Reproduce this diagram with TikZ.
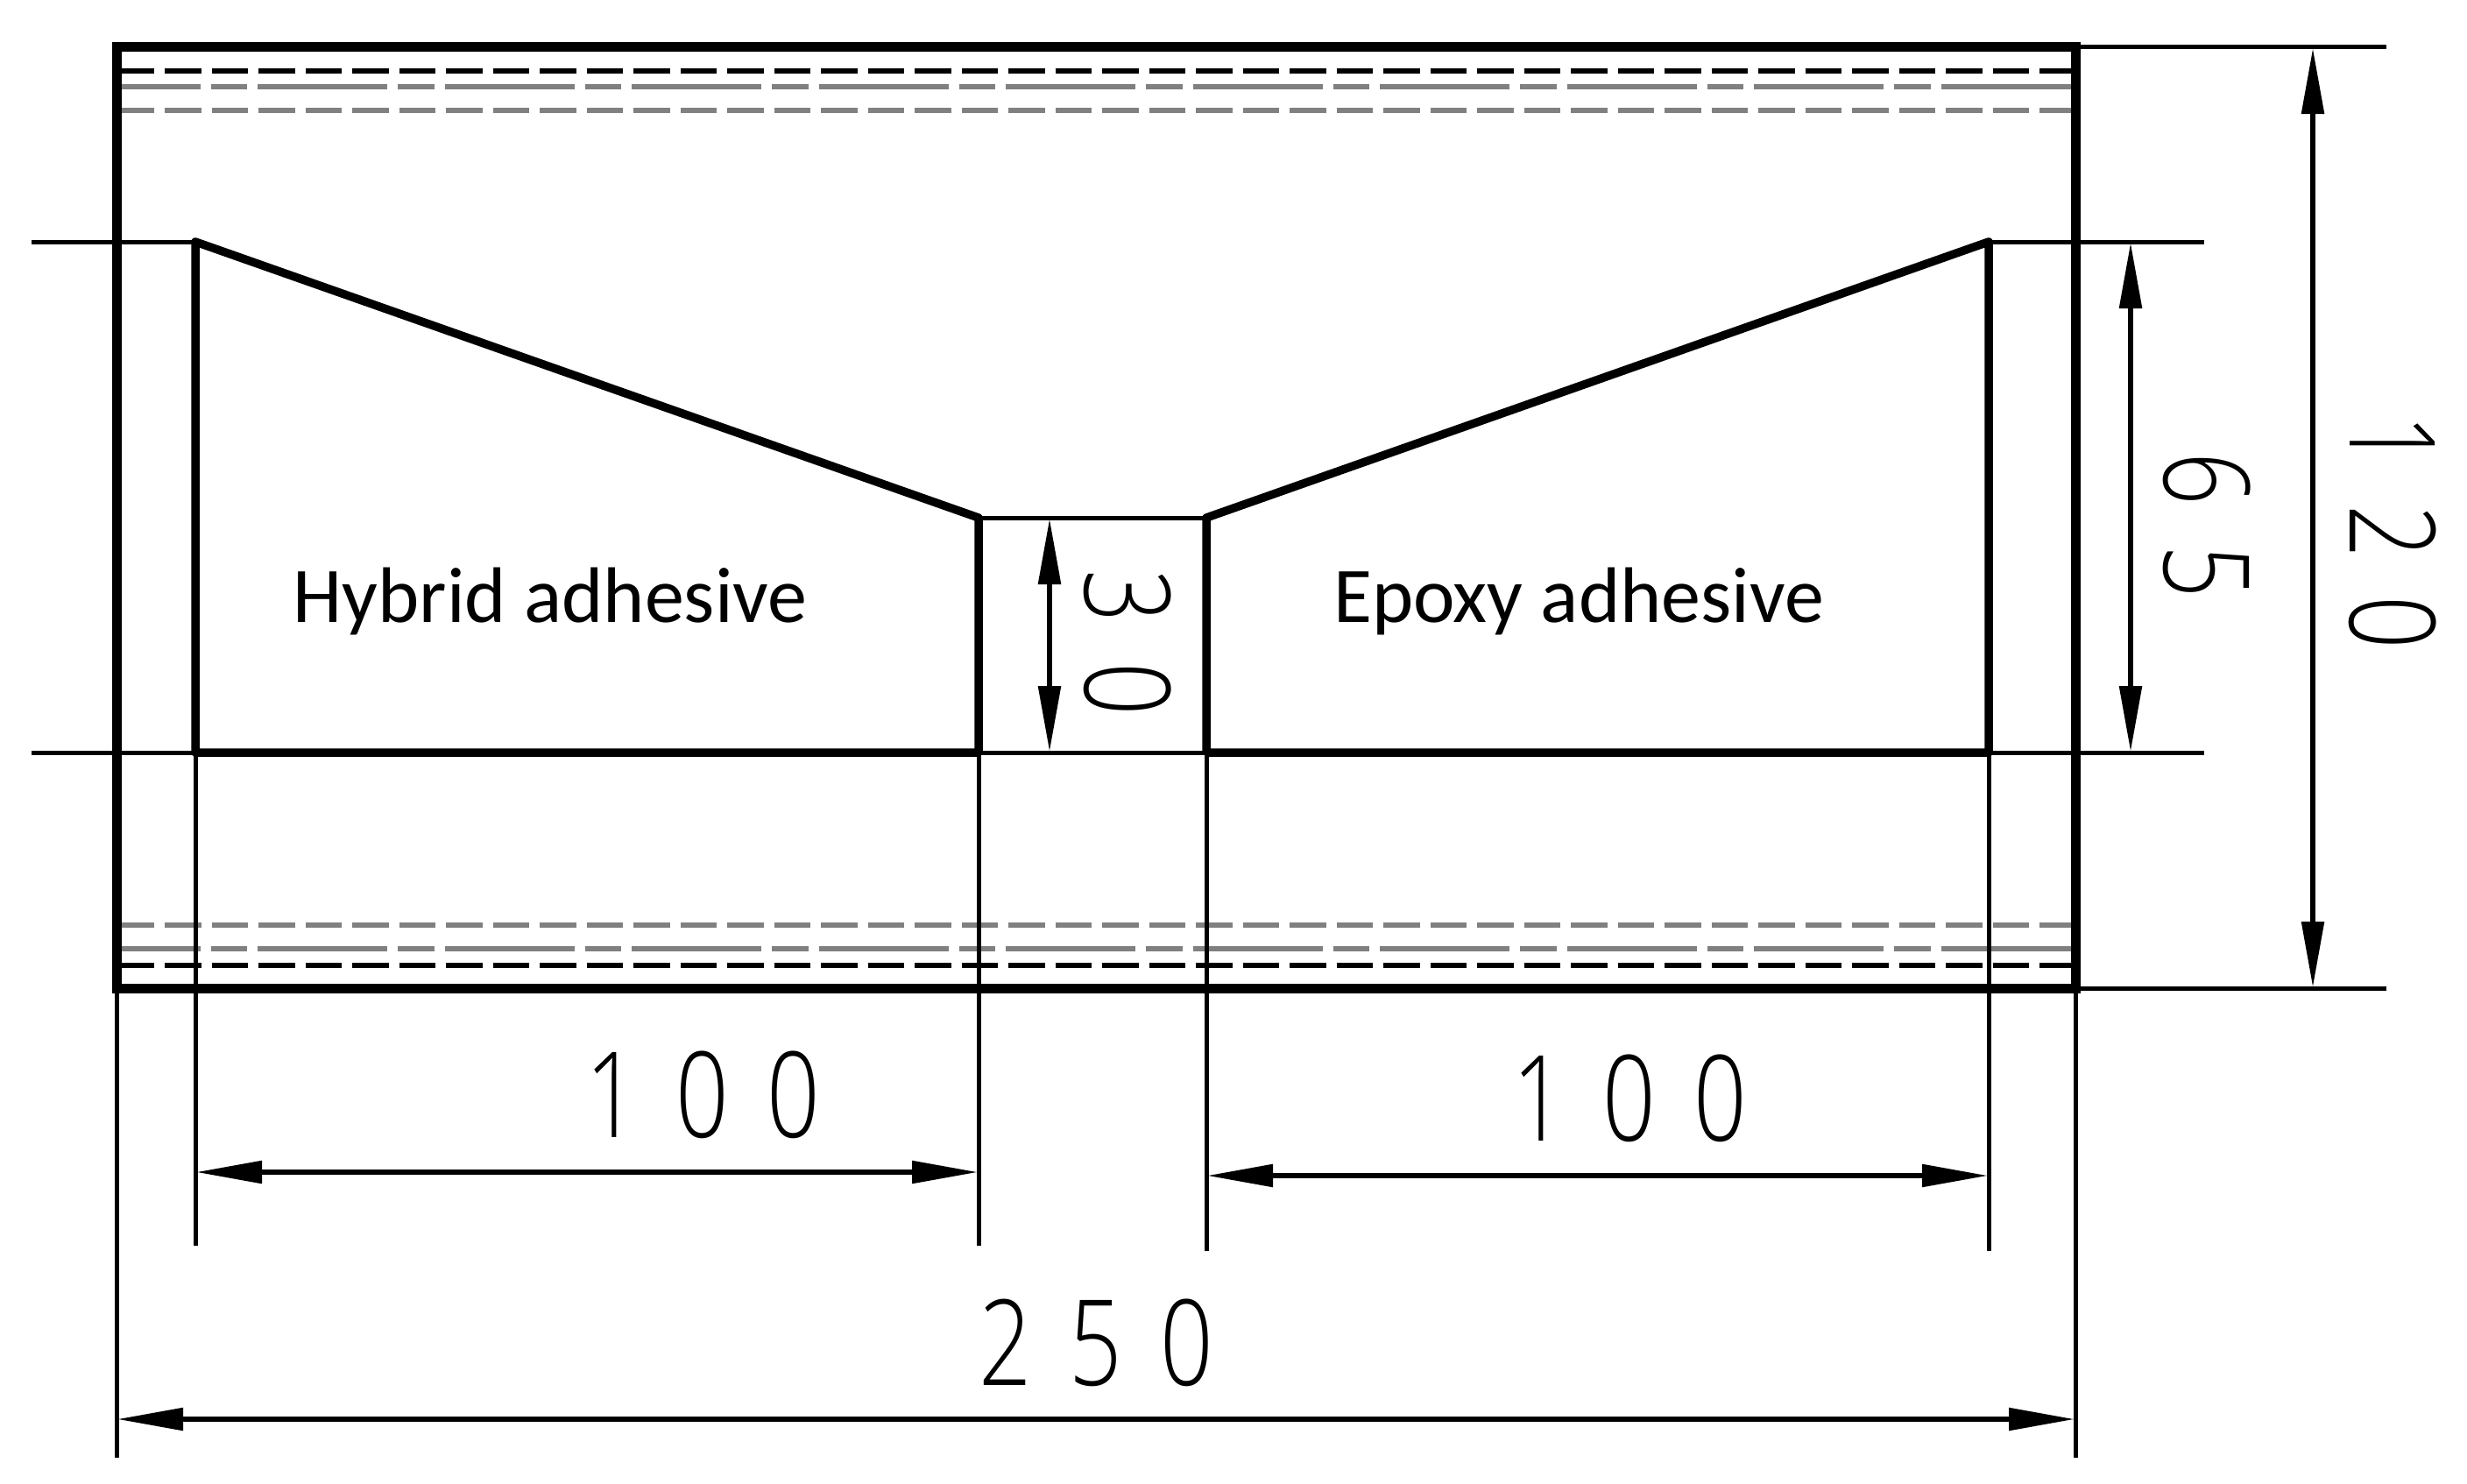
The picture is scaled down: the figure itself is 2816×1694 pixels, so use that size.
\documentclass[tikz,border=0pt]{standalone}
\usepackage{graphicx}
\usepackage{fontspec}
\setmainfont{Carlito}
\newfontfamily\dimf{Open Sans Light}
\usetikzlibrary{arrows.meta}
\newcommand{\dsp}{\hspace{55pt}}
\newcommand{\dimtext}[3]{\scalebox{.78}[1]{\fontsize{136pt}{140pt}\dimf #1\dsp #2\dsp #3}}
\newcommand{\dimtwo}[2]{\scalebox{.78}[1]{\fontsize{136pt}{140pt}\dimf #1\hspace{59pt}#2}}
\tikzset{
  outline/.style={line width=11pt,line join=miter},
  part/.style={line width=9.5pt,line join=round},
  thinline/.style={line width=5pt},
  dimline/.style={line width=5.5pt,{Triangle[length=75pt,width=25pt]}-{Triangle[length=75pt,width=25pt]},shorten <=1pt,shorten >=1pt},
  hiddenblack/.style={line width=6pt,black,dash pattern=on 41.5pt off 12pt},
  hiddengrey/.style={line width=6pt,black!50,dash pattern=on 41.5pt off 12pt},
  hiddenlong/.style={line width=6pt,black!50,dash pattern=on 148pt off 12pt on 41.5pt off 12pt,dash phase=54pt},
  dimlabel/.style={inner sep=0pt,outer sep=0pt,text=black},
  adhesive/.style={inner sep=0pt,outer sep=0pt,anchor=base,font=\fontsize{90pt}{95pt}\selectfont,text=black}
}
\begin{document}
\begin{tikzpicture}[x=1pt,y=-1pt]
\useasboundingbox (0,0) rectangle (2816,1694);
% key points
\coordinate (oTL) at (133,54);
\coordinate (oTR) at (2369,54);
\coordinate (oBL) at (133,1128);
\coordinate (oBR) at (2369,1128);
\coordinate (aT) at (223,276);
\coordinate (aB) at (223,859);
\coordinate (bT) at (1117,591);
\coordinate (bB) at (1117,859);
\coordinate (cT) at (1377,591);
\coordinate (cB) at (1377,859);
\coordinate (dT) at (2270,276);
\coordinate (dB) at (2270,859);
% hidden lines
\foreach \y/\s in {81/hiddenblack,126/hiddengrey,1056/hiddengrey,1102/hiddenblack}
  \draw[\s] (134.5,\y) -- (2365,\y);
\foreach \y in {99,1083}
  \draw[hiddenlong] (134.5,\y) -- (2365,\y);
% extension lines
\coordinate (eL1) at (36,276);
\coordinate (eR1) at (2516,276);
\coordinate (eL2) at (36,859);
\coordinate (eR2) at (2516,859);
\coordinate (eR3) at (2724,54);
\coordinate (eR4) at (2724,1128);
\coordinate (eD1) at (133,1664);
\coordinate (eD2) at (2369,1664);
\coordinate (eD3) at (223,1422);
\coordinate (eD4) at (1117,1422);
\coordinate (eD5) at (1377,1428);
\coordinate (eD6) at (2270,1428);
\draw[thinline] (eL1) -- (aT) (dT) -- (eR1) (eL2) -- (eR2) (oTR) -- (eR3) (oBR) -- (eR4)
  (bT) -- (cT)
  (oBL) -- (eD1) (oBR) -- (eD2) (aB) -- (eD3) (bB) -- (eD4) (cB) -- (eD5) (dB) -- (eD6);
% outline and parts
\draw[outline] (oTL) rectangle (oBR);
\draw[part] (bB) -- (aB) -- (aT) -- (bT) -- (bB);
\draw[part] (cB) -- (dB) -- (dT) -- (cT) -- (cB);
\draw[thinline] (bT) -- (cT);
% dimension lines
\coordinate (h1a) at (223,1338); \coordinate (h1b) at (1117,1338);
\coordinate (h2a) at (1377,1342); \coordinate (h2b) at (2270,1342);
\coordinate (h3a) at (133,1620); \coordinate (h3b) at (2369,1620);
\coordinate (v1a) at (2640,54); \coordinate (v1b) at (2640,1128);
\coordinate (v2a) at (2432,276); \coordinate (v2b) at (2432,859);
\coordinate (v3a) at (1198,591); \coordinate (v3b) at (1198,859);
\draw[dimline] (h1a) -- (h1b);
\draw[dimline] (h2a) -- (h2b);
\draw[dimline] (h3a) -- (h3b);
\draw[dimline] (v1a) -- (v1b);
\draw[dimline] (v2a) -- (v2b);
\draw[dimline] (v3a) -- (v3b);
% labels
\node[dimlabel] (l100a) at (802,1250) {\dimtext{1}{0}{0}};
\node[dimlabel] (l100b) at (1860,1254) {\dimtext{1}{0}{0}};
\node[dimlabel] (l250) at (1251,1533) {\dimtext{2}{5}{0}};
\node[dimlabel,rotate=-90] (l120) at (2731,607) {\dimtext{1}{2}{0}};
\node[dimlabel,rotate=-90] (l65) at (2519,600) {\dimtwo{6}{5}};
\node[dimlabel,rotate=-90] (l30) at (1287,734) {\dimtwo{3}{0}};
\node[adhesive] (hyb) at (628,710) {Hybrid adhesive};
\node[adhesive] (epo) at (1802,710) {Epoxy adhesive};
\end{tikzpicture}
\end{document}
